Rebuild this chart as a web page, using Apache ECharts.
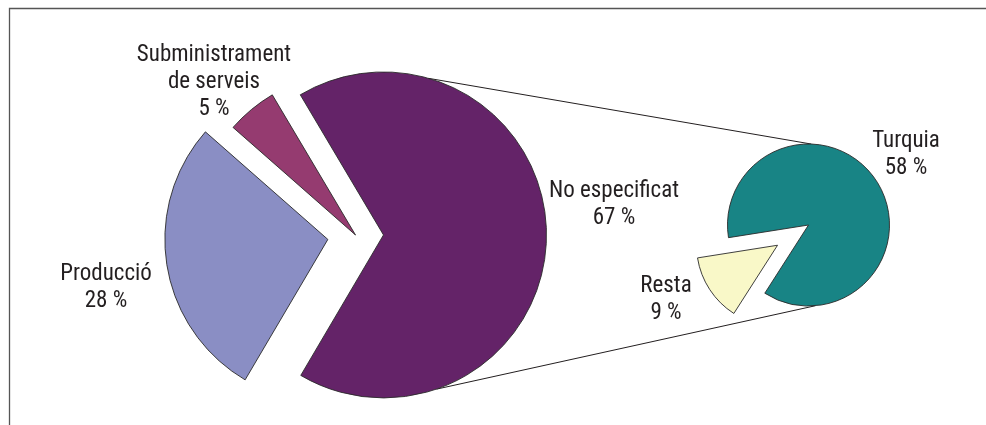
<!DOCTYPE html>
<html>
<head>
<meta charset="utf-8">
<script src="https://cdn.jsdelivr.net/npm/echarts@6/dist/echarts.min.js"></script>
<style>
  html, body { margin: 0; padding: 0; background: #ffffff; }
  #chart { width: 986px; height: 425px; }
</style>
</head>
<body>
<div id="chart"></div>
<script>
// ---- data ----
const mainCategories = ['No especificat', 'Producció', 'Subministrament de serveis'];
const mainValues = [67, 28, 5];
const detailCategories = ['Turquia', 'Resta'];
const detailValues = [58, 9];

// ---- styles / layout ----
const mainColors = ['#642368', '#8a8ec4', '#953b70'];
const detailColors = ['#188485', '#f9f8c8'];
const mainExploded = [true, true, false];
const detailExploded = [false, true];
const mainCenter = [355.5, 235];
const mainRadius = 163;
const mainOffset = 28;
const detailCenter = [808.5, 225];
const detailRadius = 81;
const detailOffset = 37;
const mainLabelPos = [[614, 205], [106, 288], [214, 82]];
const detailLabelPos = [[906, 155], [666, 300]];
const fontFamily = '"Liberation Sans Narrow", "Arial Narrow", "Roboto Condensed", "DejaVu Sans Condensed", sans-serif';
const textColor = '#231f20';
const edgeColor = '#2a2a2a';

function wrapName(n) { return n.replace(' de ', '\nde '); }

function pieSeries(cats, vals, colors, exploded, center, radius, offset, startAngle) {
  return {
    type: 'pie',
    center: center,
    radius: radius,
    startAngle: startAngle,
    clockwise: true,
    selectedMode: 'multiple',
    selectedOffset: offset,
    emphasis: { disabled: true },
    label: { show: false },
    labelLine: { show: false },
    itemStyle: { borderColor: edgeColor, borderWidth: 0.9 },
    select: { itemStyle: { borderColor: edgeColor, borderWidth: 0.9 } },
    data: cats.map((c, i) => ({
      name: c,
      value: vals[i],
      selected: exploded[i],
      itemStyle: { color: colors[i] },
      select: { itemStyle: { color: colors[i] } }
    }))
  };
}

function labelTexts(cats, vals, pos) {
  return cats.map((c, i) => ({
    type: 'text', z: 10, silent: true,
    x: pos[i][0], y: pos[i][1],
    style: {
      text: wrapName(c) + '\n' + vals[i] + ' %',
      fill: textColor,
      font: '23px ' + fontFamily,
      lineHeight: 27,
      align: 'center',
      verticalAlign: 'middle'
    }
  }));
}

// connector lines computed from pie geometry
const explodedCenter = [mainCenter[0] + mainOffset, mainCenter[1]];
function onCircle(c, r, deg) {
  const a = deg * Math.PI / 180;
  return [c[0] + r * Math.cos(a), c[1] - r * Math.sin(a)];
}
const topA = onCircle(explodedCenter, mainRadius, 74);
const botA = onCircle(explodedCenter, mainRadius, -71);
const topB = onCircle(detailCenter, detailRadius, 88);
const botB = onCircle(detailCenter, detailRadius, -85);

const chart = echarts.init(document.getElementById('chart'), null, { renderer: 'canvas' });
chart.setOption({
  animation: false,
  backgroundColor: '#ffffff',
  graphic: [
    { type: 'polyline', z: 0, silent: true,
      shape: { points: [[9.5, 425], [9.5, 8.5], [986, 8.5]] },
      style: { stroke: '#555555', lineWidth: 1.3, fill: null } },
    { type: 'line', z: 0, silent: true,
      shape: { x1: topA[0], y1: topA[1], x2: topB[0], y2: topB[1] },
      style: { stroke: '#231f20', lineWidth: 1 } },
    { type: 'line', z: 0, silent: true,
      shape: { x1: botA[0], y1: botA[1], x2: botB[0], y2: botB[1] },
      style: { stroke: '#231f20', lineWidth: 1 } }
  ].concat(labelTexts(mainCategories, mainValues, mainLabelPos))
   .concat(labelTexts(detailCategories, detailValues, detailLabelPos)),
  series: [
    pieSeries(mainCategories, mainValues, mainColors, mainExploded, mainCenter, mainRadius, mainOffset, 120.7),
    pieSeries(detailCategories, detailValues, detailColors, detailExploded, detailCenter, detailRadius, detailOffset, 189)
  ]
});
</script>
</body>
</html>
